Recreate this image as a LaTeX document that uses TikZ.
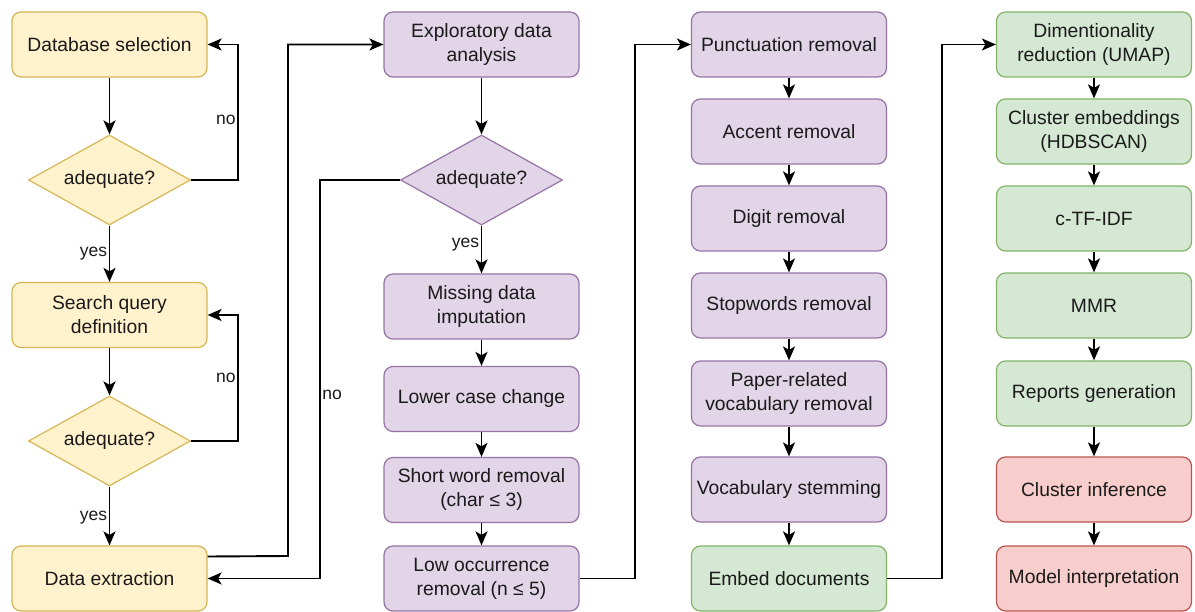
\documentclass[tikz,border=0pt]{standalone}
\usepackage{fontspec}
\setmainfont{Liberation Sans}
\usetikzlibrary{arrows.meta,shapes.geometric}
\definecolor{yfill}{HTML}{FFF2CC}\definecolor{ydraw}{HTML}{D6B656}
\definecolor{pfill}{HTML}{E1D5E7}\definecolor{pdraw}{HTML}{9673A6}
\definecolor{gfill}{HTML}{D5E8D4}\definecolor{gdraw}{HTML}{82B366}
\definecolor{rfill}{HTML}{F8CECC}\definecolor{rdraw}{HTML}{B85450}
\definecolor{txt}{HTML}{1A1A1A}
\tikzset{
  boxbase/.style={rectangle, rounded corners=9pt, line width=1.2pt, minimum width=195pt, minimum height=65pt, inner sep=2pt, align=center, text=txt, font=\fontsize{19.3}{24}\selectfont},
  ybox/.style={boxbase, fill=yfill, draw=ydraw},
  pbox/.style={boxbase, fill=pfill, draw=pdraw},
  gbox/.style={boxbase, fill=gfill, draw=gdraw},
  rbox/.style={boxbase, fill=rfill, draw=rdraw},
  decbase/.style={diamond, aspect=1.8, inner sep=0pt, minimum width=162pt, minimum height=90pt, line width=1.2pt, text=txt, font=\fontsize{19.3}{24}\selectfont},
  ydec/.style={decbase, fill=yfill, draw=ydraw},
  pdec/.style={decbase, fill=pfill, draw=pdraw},
  conn/.style={line width=1.9pt, -{Stealth[length=14pt,width=12pt,inset=3.5pt]}},
  lbl/.style={font=\fontsize{17.5}{20}\selectfont, text=txt, inner sep=1.5pt}
}
\begin{document}
\begin{tikzpicture}[x=1pt,y=-1pt]
\useasboundingbox (0,0) rectangle (1195,612);
% column 1
\node[ybox] (db) at (109.5,44.5) {Database selection};
\node[ydec] (d1) at (109.5,180) {adequate?};
\node[ybox] (sq) at (109.5,315) {Search query\\definition};
\node[ydec] (d2) at (109.5,441) {adequate?};
\node[ybox] (de) at (109.5,578.5) {Data extraction};
% column 2
\node[pbox] (eda) at (481.5,44.5) {Exploratory data\\analysis};
\node[pdec] (d3) at (481.5,180) {adequate?};
\node[pbox] (md) at (481.5,306.5) {Missing data\\imputation};
\node[pbox] (lc) at (481.5,399) {Lower case change};
\node[pbox] (sw) at (481.5,490) {Short word removal\\(char ≤ 3)};
\node[pbox] (lo) at (481.5,578.5) {Low occurrence\\removal (n ≤ 5)};
% column 3
\node[pbox] (pr) at (789,44.5) {Punctuation removal};
\node[pbox] (ar) at (789,131.5) {Accent removal};
\node[pbox] (dr) at (789,218.5) {Digit removal};
\node[pbox] (sr) at (789,305.5) {Stopwords removal};
\node[pbox] (pv) at (789,393.5) {Paper-related\\vocabulary removal};
\node[pbox] (vs) at (789,489.5) {Vocabulary stemming};
\node[gbox] (ed) at (789,578.5) {Embed documents};
% column 4
\node[gbox] (dim) at (1094,44.5) {Dimentionality\\reduction (UMAP)};
\node[gbox] (ce) at (1094,131.5) {Cluster embeddings\\(HDBSCAN)};
\node[gbox] (ct) at (1094,218.5) {c-TF-IDF};
\node[gbox] (mmr) at (1094,305.5) {MMR};
\node[gbox] (rg) at (1094,393.5) {Reports generation};
\node[rbox] (ci) at (1094,489.5) {Cluster inference};
\node[rbox] (mi) at (1094,578.5) {Model interpretation};
% coordinates for bends
\coordinate (n1) at (238,180);
\coordinate (n2) at (238,441);
\coordinate (x1) at (288,556);
\coordinate (n3) at (320,180);
\coordinate (x2) at (635,578.5);
\coordinate (x3) at (942,578.5);
% column 1 edges
\draw[conn] (db) -- (d1);
\draw[conn] (d1.east) -- (n1) |- (db.east) node[lbl, pos=0.22, anchor=east] {no};
\draw[conn] (d1) -- (sq) node[lbl, pos=0.5, anchor=east] {yes};
\draw[conn] (sq) -- (d2);
\draw[conn] (d2.east) -- (n2) |- (sq.east) node[lbl, pos=0.25, anchor=east] {no};
\draw[conn] (d2) -- (de) node[lbl, pos=0.53, anchor=east] {yes};
\draw[conn] ([yshift=22pt]de.east) -- (x1) |- (eda.west);
% column 2 edges
\draw[conn] (eda) -- (d3);
\draw[conn] (d3.west) -- (n3) |- (de.east) node[lbl, pos=0.27, anchor=west] {no};
\draw[conn] (d3) -- (md) node[lbl, pos=0.4, anchor=east] {yes};
\draw[conn] (md) -- (lc);
\draw[conn] (lc) -- (sw);
\draw[conn] (sw) -- (lo);
\draw[conn] (lo.east) -- (x2) |- (pr.west);
% column 3 edges
\draw[conn] (pr) -- (ar);
\draw[conn] (ar) -- (dr);
\draw[conn] (dr) -- (sr);
\draw[conn] (sr) -- (pv);
\draw[conn] (pv) -- (vs);
\draw[conn] (vs) -- (ed);
\draw[conn] (ed.east) -- (x3) |- (dim.west);
% column 4 edges
\draw[conn] (dim) -- (ce);
\draw[conn] (ce) -- (ct);
\draw[conn] (ct) -- (mmr);
\draw[conn] (mmr) -- (rg);
\draw[conn] (rg) -- (ci);
\draw[conn] (ci) -- (mi);
\end{tikzpicture}
\end{document}
